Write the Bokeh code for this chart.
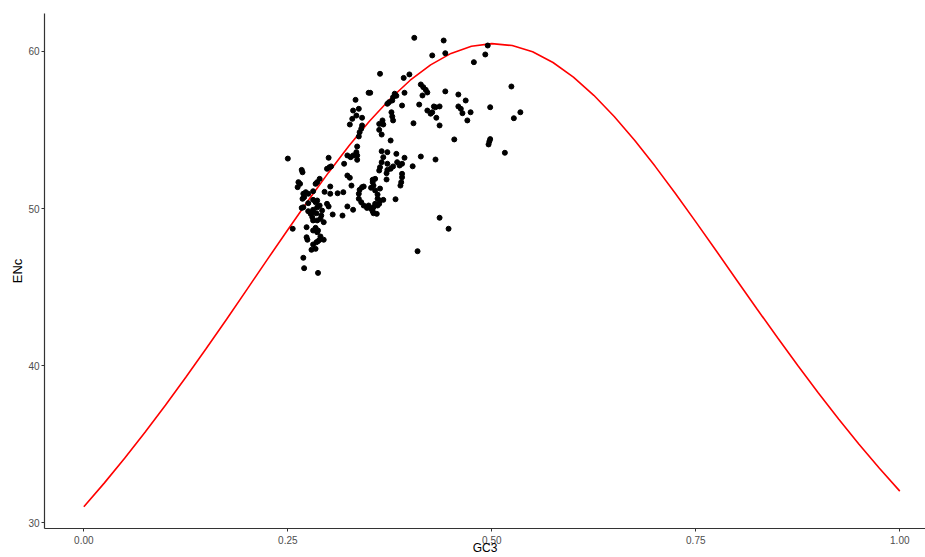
from bokeh.plotting import figure
from bokeh.models import Range1d, FixedTicker
from bokeh.embed import file_html
from bokeh.resources import INLINE

# Observed genes: GC3 and ENc
gc3 = [0.405, 0.427, 0.363, 0.399, 0.392, 0.349, 0.351, 0.393, 0.333, 0.413,
       0.416, 0.419, 0.421, 0.415, 0.381, 0.379, 0.378, 0.374, 0.372, 0.383,
       0.390, 0.411, 0.421, 0.427, 0.429, 0.377, 0.378, 0.379, 0.330, 0.337,
       0.334, 0.329, 0.326, 0.341, 0.366, 0.362, 0.367, 0.404, 0.341, 0.340,
       0.338, 0.337, 0.362, 0.365, 0.376, 0.335, 0.365, 0.372, 0.383, 0.323,
       0.335,
       0.441, 0.443, 0.495, 0.492, 0.478, 0.524, 0.443, 0.459, 0.468, 0.459,
       0.462, 0.464, 0.436, 0.431, 0.474, 0.498, 0.535, 0.527, 0.470, 0.432,
       0.436, 0.454, 0.498, 0.497, 0.496, 0.516, 0.425,
       0.431, 0.436, 0.447, 0.409, 0.413, 0.403, 0.382, 0.371, 0.363,
       0.393, 0.390, 0.387, 0.384, 0.379, 0.376, 0.390, 0.390, 0.389, 0.388,
       0.367, 0.365, 0.363, 0.362, 0.372, 0.372, 0.371, 0.334, 0.330, 0.327,
       0.335, 0.319, 0.323, 0.326, 0.328, 0.318, 0.317, 0.323, 0.330, 0.341,
       0.343, 0.338, 0.337, 0.337, 0.340, 0.343, 0.354, 0.355, 0.352, 0.357,
       0.360, 0.360, 0.363, 0.367, 0.362, 0.360, 0.357, 0.355, 0.352, 0.349,
       0.347, 0.354, 0.355, 0.359, 0.354, 0.357,
       0.250, 0.300, 0.298, 0.301, 0.303, 0.267, 0.268, 0.289, 0.284, 0.286,
       0.263, 0.265, 0.262, 0.302, 0.272, 0.270, 0.268, 0.269, 0.275, 0.281,
       0.295, 0.302, 0.311, 0.281, 0.284, 0.286, 0.275, 0.269, 0.267, 0.298,
       0.300, 0.289, 0.286, 0.292, 0.281, 0.280, 0.278, 0.285, 0.275, 0.291,
       0.290, 0.294, 0.280, 0.281, 0.286, 0.305, 0.273, 0.256, 0.281, 0.286,
       0.284, 0.287, 0.273, 0.274, 0.290, 0.289, 0.285, 0.287, 0.294, 0.281,
       0.279, 0.284, 0.269, 0.270, 0.287]

enc = [60.87, 59.75, 58.58, 58.54, 58.32, 57.37, 57.37, 57.37, 56.92, 57.90,
       57.73, 57.56, 57.39, 57.20, 57.31, 57.09, 56.88, 56.77, 56.67, 57.18,
       56.56, 56.62, 56.24, 56.13, 56.50, 56.13, 55.86, 55.61, 56.24, 56.35,
       55.92, 55.71, 55.35, 55.78, 55.61, 55.39, 55.35, 55.43, 55.29, 55.08,
       54.86, 54.59, 55.01, 54.71, 54.33, 53.95, 53.65, 53.59, 53.48, 53.38,
       53.38,
       60.70, 59.89, 60.38, 59.81, 59.32, 57.77, 57.46, 57.26, 56.88, 56.50,
       56.35, 56.07, 56.50, 56.45, 56.13, 56.45, 56.13, 55.75, 55.61, 55.78,
       55.29, 54.40, 54.42, 54.27, 54.08, 53.55, 56.04,
       53.12, 49.41, 48.71, 47.28, 53.31, 52.69, 50.59, 51.85, 51.27,
       53.23, 52.85, 52.74, 52.95, 52.68, 52.53, 52.21, 51.99, 51.68, 51.46,
       53.27, 52.95, 52.63, 52.42, 52.85, 52.46, 52.25, 53.59, 53.38, 53.27,
       53.10, 52.85, 52.10, 51.96, 51.46, 51.04, 49.55, 50.13, 49.92, 51.36,
       51.40, 51.19, 50.94, 50.62, 50.40, 50.19, 51.68, 51.46, 51.32, 51.15,
       50.89, 50.62, 50.51, 50.55, 50.30, 50.19, 50.30, 50.08, 49.98, 50.19,
       50.04, 49.83, 49.70, 49.66, 51.83, 51.89,
       53.18, 53.23, 52.53, 52.63, 52.68, 52.46, 52.31, 51.89, 51.57, 51.68,
       51.68, 51.57, 51.36, 51.40, 51.04, 50.72, 50.62, 50.94, 50.94, 51.10,
       51.06, 50.94, 50.97, 50.55, 50.40, 50.51, 50.34, 50.08, 50.04, 50.30,
       50.13, 50.19, 50.08, 49.87, 49.92, 49.76, 49.66, 49.70, 49.83, 49.55,
       49.34, 49.13, 49.45, 49.24, 49.24, 49.62, 48.81, 48.71, 48.60, 48.49,
       48.77, 48.60, 48.17, 48.01, 48.22, 48.01, 47.85, 47.92, 48.01, 47.71,
       47.37, 47.43, 46.86, 46.20, 45.90]

# Expected ENc curve values read along GC3
curve_gc3 = [0.000, 0.025, 0.050, 0.075, 0.100, 0.125, 0.150, 0.175, 0.200, 0.225,
             0.250, 0.275, 0.300, 0.325, 0.350, 0.375, 0.400, 0.425, 0.450, 0.475,
             0.500, 0.525, 0.550, 0.575, 0.600, 0.625, 0.650, 0.675, 0.700, 0.725,
             0.750, 0.775, 0.800, 0.825, 0.850, 0.875, 0.900, 0.925, 0.950, 0.975,
             1.000]
curve_enc = [31.00, 32.51, 34.09, 35.75, 37.47, 39.25, 41.08, 42.95, 44.85, 46.76,
             48.65, 50.51, 52.30, 54.00, 55.56, 56.96, 58.17, 59.15, 59.88, 60.33,
             60.50, 60.38, 59.98, 59.30, 58.37, 57.21, 55.86, 54.35, 52.70, 50.96,
             49.15, 47.31, 45.45, 43.60, 41.78, 40.00, 38.27, 36.60, 34.99, 33.46,
             32.00]

x_ticks = [0.0, 0.25, 0.5, 0.75, 1.0]
x_tick_labels = ["0.00", "0.25", "0.50", "0.75", "1.00"]
y_ticks = [30, 40, 50, 60]
x_title = "GC3"
y_title = "ENc"

p = figure(width=925, height=557, output_backend="svg", toolbar_location=None,
           x_range=Range1d(-0.0482, 1.0315), y_range=Range1d(29.62, 62.42),
           min_border_left=44, min_border_top=13, min_border_right=0, min_border_bottom=29)

p.line(curve_gc3, curve_enc, line_color="red", line_width=1.6)
p.scatter(x=gc3, y=enc, size=5, fill_color="black", line_color="black")

p.grid.visible = False
p.outline_line_color = None
p.background_fill_color = "white"
p.border_fill_color = "white"

p.xaxis.ticker = FixedTicker(ticks=x_ticks)
p.xaxis.major_label_overrides = {t: l for t, l in zip(x_ticks, x_tick_labels)}
p.yaxis.ticker = FixedTicker(ticks=y_ticks)

for ax in (p.xaxis[0], p.yaxis[0]):
    ax.axis_line_color = "#333333"
    ax.axis_line_width = 1.2
    ax.major_tick_line_color = "#333333"
    ax.major_tick_out = 3
    ax.major_tick_in = 0
    ax.minor_tick_line_color = None
    ax.major_label_text_color = "#4D4D4D"
    ax.major_label_text_font = "Liberation Sans"
    ax.major_label_text_font_size = "10px"
    ax.major_label_standoff = 2
    ax.axis_label_text_font = "Liberation Sans"
    ax.axis_label_text_font_style = "normal"
    ax.axis_label_text_color = "black"
    ax.axis_label_text_font_size = "13px"

p.xaxis.major_label_standoff = 4
p.yaxis.axis_label = y_title
p.yaxis.axis_label_standoff = 0
p.xaxis.axis_label = x_title
p.xaxis.axis_label_text_font_size = "12px"
p.xaxis.axis_label_standoff = -6

open("out.html", "w").write(file_html(p, INLINE))
